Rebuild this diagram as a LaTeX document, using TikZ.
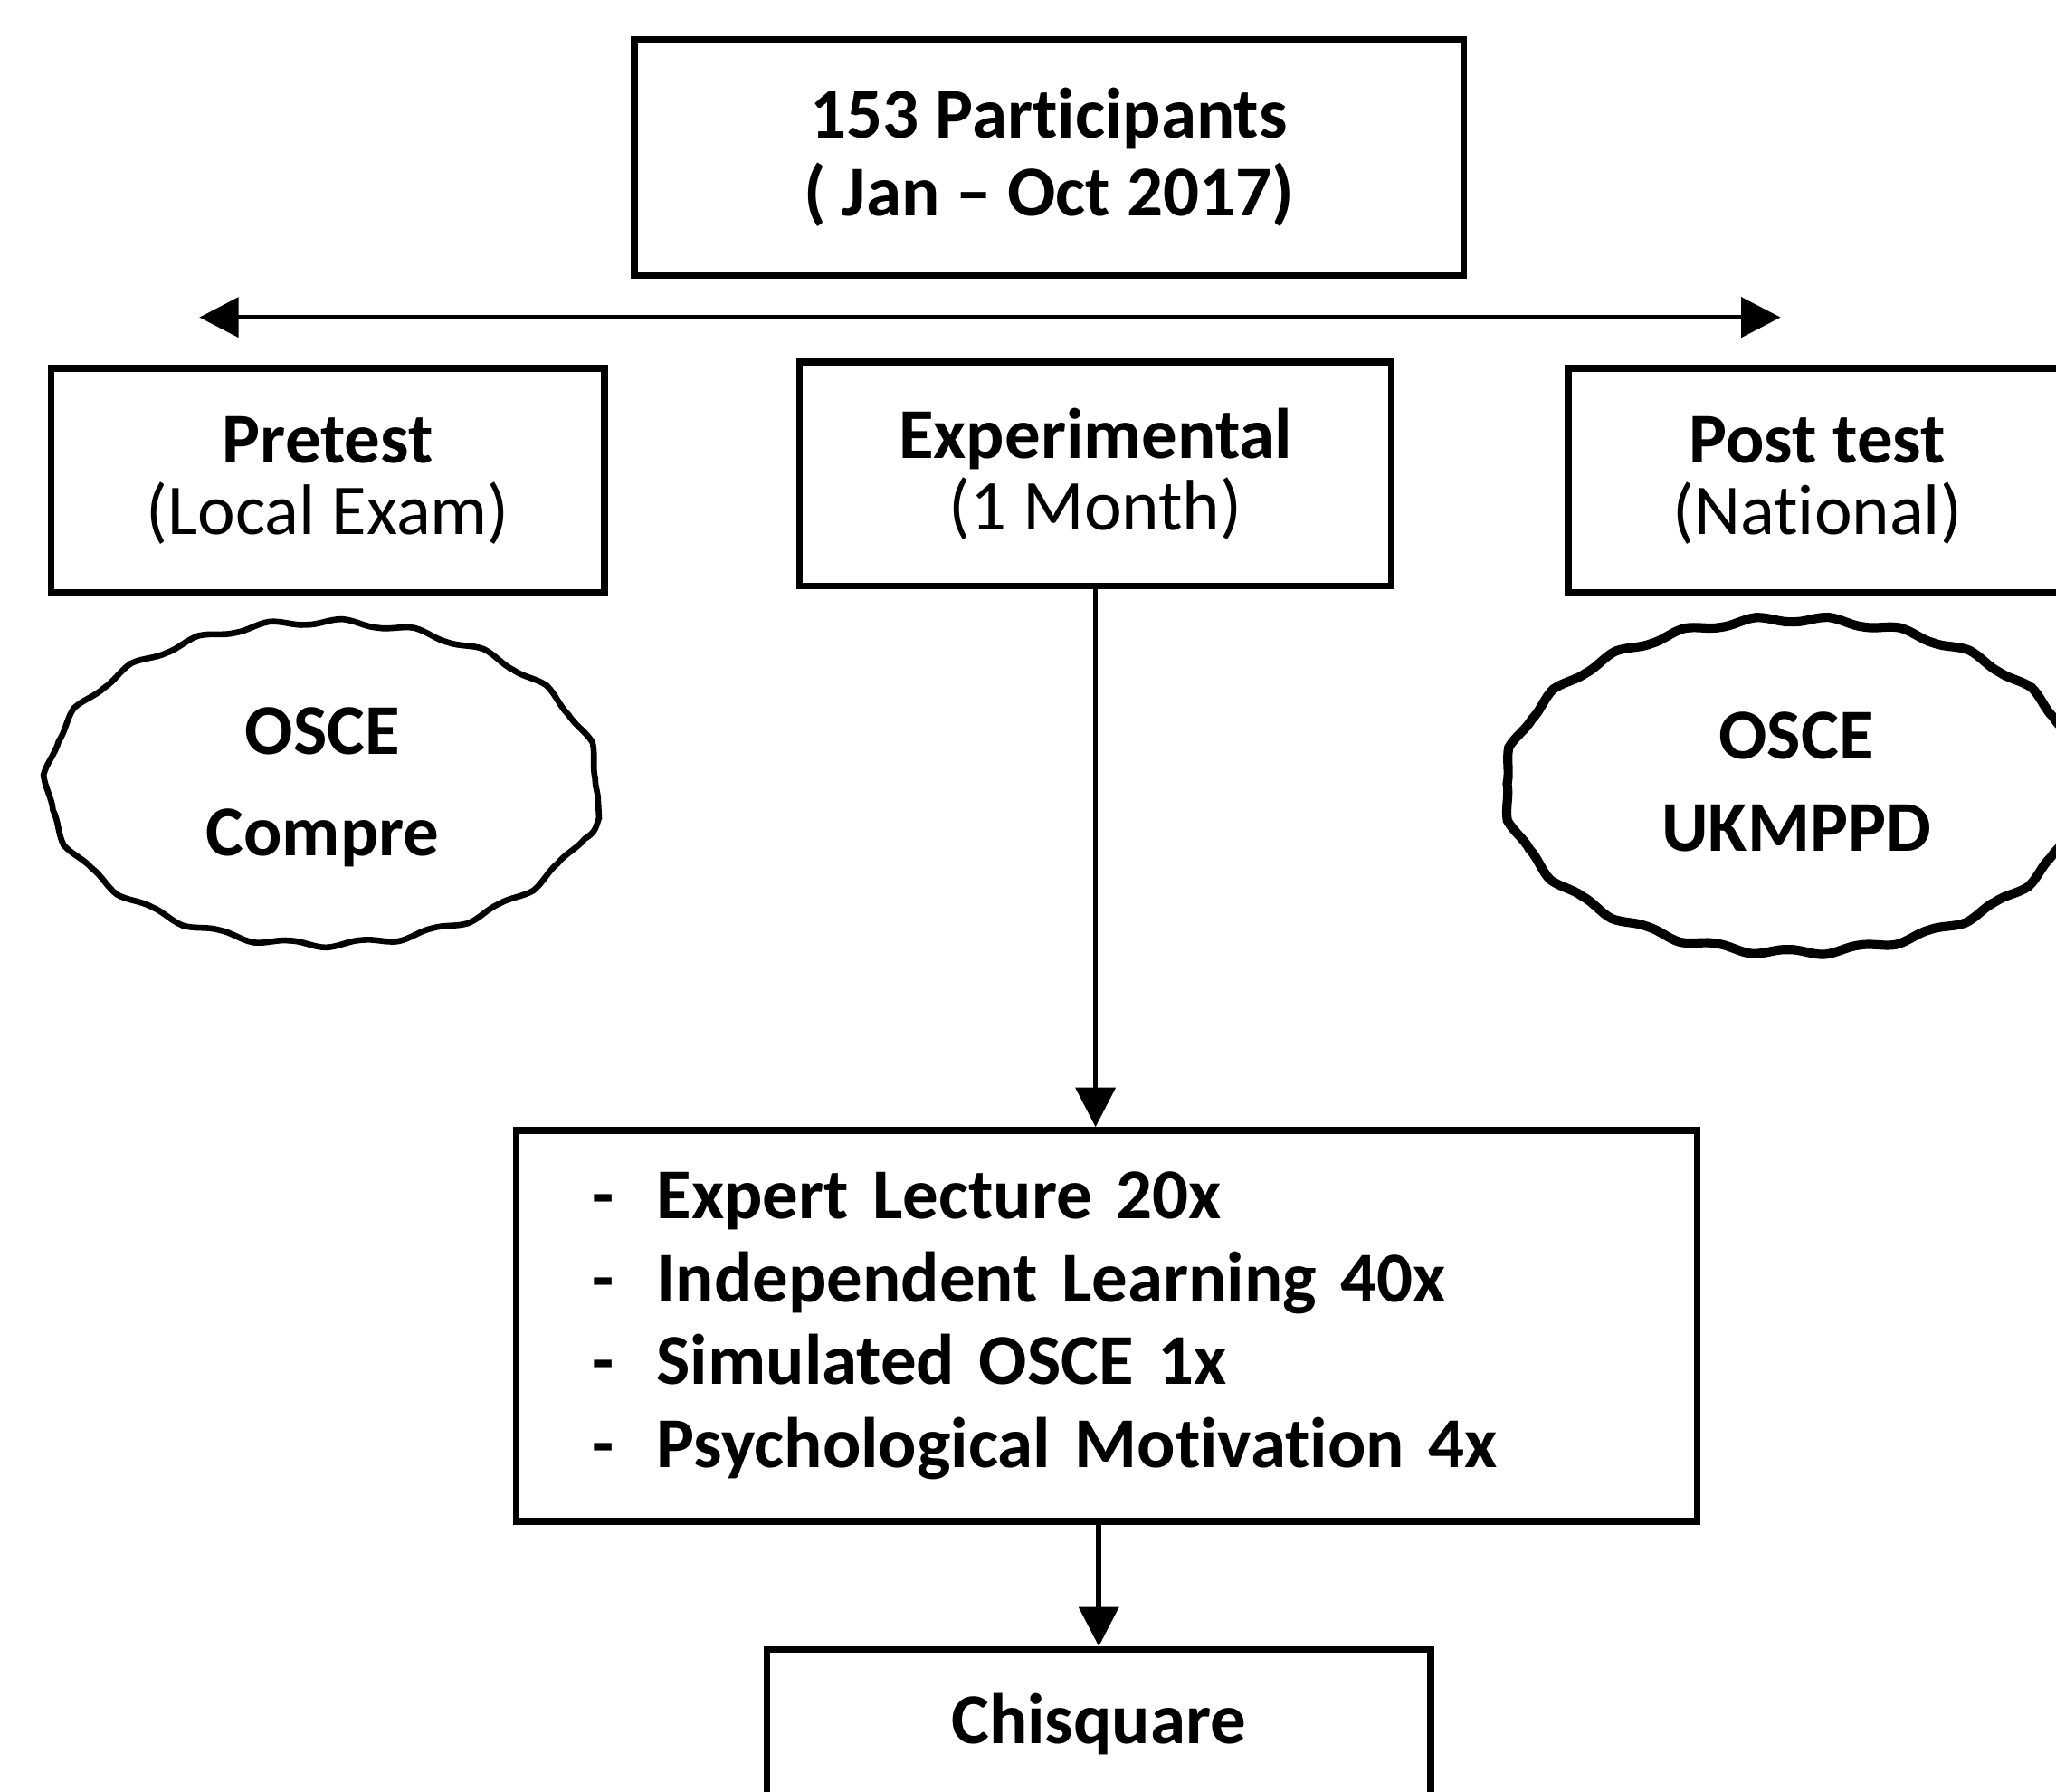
\documentclass[tikz,border=0pt]{standalone}
\usepackage{fontspec}
\setmainfont{Carlito}[Ligatures=NoCommon]
\usepackage{tikz}
\usetikzlibrary{arrows.meta, decorations.pathmorphing, shapes.geometric, calc, positioning}
\tikzset{
    boxNode/.style={rectangle, draw, line width=1.45pt, align=center, inner sep=0pt},
    waveNode/.style={ellipse, inner sep=0pt, align=center},
    waveLine/.style={line width=1.3pt, decorate, decoration={snake, amplitude=0.22mm, segment length=5.5mm}},
    listNode/.style={rectangle, draw, line width=1.45pt, align=left, inner ysep=0pt, inner xsep=0.58cm, text width=7.84cm},
    flowEdge/.style={-{Triangle[length=3mm, width=3mm]}, line width=1.1pt},
    flowBoth/.style={{Triangle[length=3mm, width=3mm]}-{Triangle[length=3mm, width=3mm]}, line width=1.1pt},
}
\newcommand{\boxFont}[1]{\fontsize{15.5}{#1}\selectfont}
\newcommand{\dashItem}[1]{\makebox[0.49cm][l]{-}#1}

\begin{document}
\begin{tikzpicture}[x=0.01cm, y=-0.01cm]

        \useasboundingbox (0,0) rectangle (1568,1366);
        \clip (0,0) rectangle (1568,1366);

        \node[boxNode, minimum width=6.32cm, minimum height=1.80cm, font=\boxFont{17pt}\bfseries] (total) at (800,120) {153 Participants\\( Jan – Oct 2017)};

        \coordinate (leftEnd) at (152,242);
        \coordinate (rightEnd) at (1358,242);

        \node[boxNode, minimum width=4.22cm, minimum height=1.71cm, font=\boxFont{15.6pt}] (pre) at (250,366.5) {\textbf{Pretest}\\(Local Exam)};
        \node[boxNode, minimum width=4.51cm, minimum height=1.71cm, font=\boxFont{15.6pt}] (exp) at (835.5,361.5) {\textbf{Experimental}\\(1 Month)};
        \node[boxNode, minimum width=3.80cm, minimum height=1.71cm, font=\boxFont{15.6pt}] (post) at (1386,366.5) {\textbf{Post test}\\(National)};

        \node[waveNode, font=\boxFont{22pt}\bfseries] (preTest) at (246,600) {OSCE\\Compre};
        \node[waveNode, font=\boxFont{20pt}\bfseries] (postTest) at (1370,596) {OSCE\\UKMPPD};
        % the snake drifts upward, so the centres sit a little low
        \draw[waveLine] (246,611) ellipse [x radius=2.10cm, y radius=1.23cm];
        \draw[waveLine, line width=2pt] (1368,613) ellipse [x radius=2.20cm, y radius=1.27cm];

        \node[listNode, minimum height=2.98cm, font=\boxFont{18pt}\bfseries] (list) at (844,1011) {\dashItem{Expert Lecture 20x}\\\dashItem{Independent Learning 40x}\\\dashItem{Simulated OSCE 1x}\\\dashItem{Psychological Motivation 4x}};

        \node[boxNode, minimum width=5.06cm, minimum height=1.14cm, font=\boxFont{18pt}\bfseries] (chi) at (838,1315) {Chisquare};

        \draw[flowBoth] (leftEnd) -- (rightEnd);
        \draw[flowEdge] (exp.south) -- (exp.south |- list.north);
        \draw[flowEdge] (chi.north |- list.south) -- (chi.north);

    \end{tikzpicture}
\end{document}
